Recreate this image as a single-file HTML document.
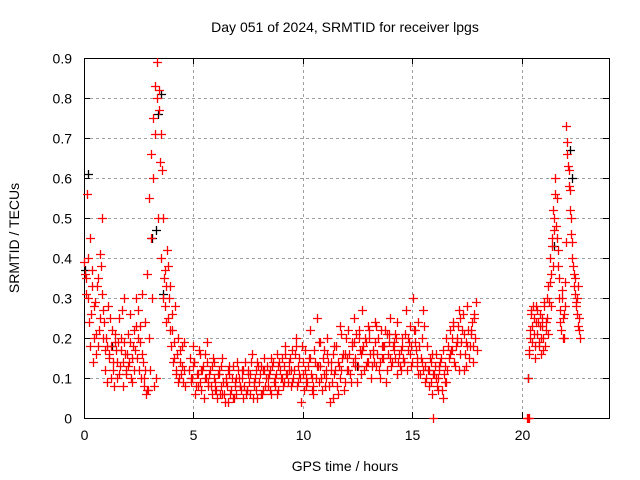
<!DOCTYPE html>
<html><head><meta charset="utf-8"><style>
html,body{margin:0;padding:0;background:#fff;}
svg{display:block;font-family:"Liberation Sans",sans-serif;}
</style></head><body>
<svg id="chart" width="640" height="480" viewBox="0 0 640 480" xmlns="http://www.w3.org/2000/svg">
<text x="345" y="32" font-size="14" text-anchor="middle">Day 051 of 2024, SRMTID for receiver lpgs</text>
<text x="345" y="471" font-size="14" text-anchor="middle">GPS time / hours</text>
<text transform="translate(19,238) rotate(-90)" font-size="14" text-anchor="middle">SRMTID / TECUs</text>
<g id="grid"></g><g id="axes"></g><g id="marks"></g>
</svg>
<script>
const xTicks=[0,5,10,15,20];
const yTicks=[0,0.1,0.2,0.3,0.4,0.5,0.6,0.7,0.8,0.9];
const yTickLabels=["0","0.1","0.2","0.3","0.4","0.5","0.6","0.7","0.8","0.9"];
const segStarts=[0.02,0.05,4.8,4.84,20.3,20.33,4.88];
const segSteps=[0.06,0.06,0.08,0.08,0.05,0.05,0.16];
const seg0=[0.39,0.35,0.56,0.30,0.45,0.26,0.33,0.20,0.29,0.16,0.35,0.22,0.41,0.50,0.27,0.24,0.12,0.18,0.28,0.15,0.10,0.22,0.14,0.19,0.17,0.10,0.25,0.13,0.20,0.08,0.30,0.16,0.11,0.21,0.14,0.26,0.09,0.18,0.12,0.23,0.15,0.27,0.19,0.10,0.31,0.08,0.24,0.06,0.36,0.55,0.12,0.66,0.75,0.08,0.83,0.89,0.50,0.77,0.40,0.62,0.30,0.37,0.24,0.42,0.25,0.33,0.18,0.22,0.15,0.28,0.12,0.20,0.10,0.17,0.13,0.09,0.19];
const seg1=[0.36,0.31,0.40,0.24,0.18,0.37,0.14,0.28,0.21,0.33,0.18,0.25,0.38,0.31,0.20,0.17,0.20,0.09,0.16,0.25,0.18,0.12,0.08,0.21,0.14,0.19,0.11,0.17,0.27,0.14,0.19,0.12,0.16,0.13,0.19,0.10,0.15,0.22,0.17,0.30,0.20,0.12,0.23,0.16,0.14,0.10,0.12,0.07,0.07,0.20,0.45,0.30,0.60,0.71,0.10,0.80,0.82,0.64,0.71,0.50,0.35,0.28,0.33,0.38,0.30,0.22,0.26,0.14,0.19,0.11,0.16,0.09,0.14,0.11,0.18,0.12,0.08];
const seg2=[0.12,0.09,0.18,0.14,0.08,0.11,0.16,0.07,0.13,0.10,0.19,0.08,0.12,0.06,0.14,0.09,0.05,0.12,0.08,0.15,0.06,0.10,0.04,0.11,0.07,0.13,0.09,0.06,0.12,0.08,0.10,0.05,0.14,0.07,0.11,0.06,0.16,0.08,0.12,0.05,0.09,0.13,0.07,0.15,0.10,0.08,0.12,0.06,0.14,0.10,0.16,0.07,0.12,0.15,0.09,0.18,0.11,0.14,0.08,0.17,0.12,0.20,0.09,0.15,0.04,0.11,0.17,0.08,0.13,0.22,0.10,0.06,0.14,0.25,0.09,0.13,0.07,0.17,0.10,0.20,0.08,0.14,0.05,0.11,0.18,0.06,0.23,0.12,0.16,0.09,0.15,0.22,0.11,0.18,0.25,0.13,0.09,0.20,0.16,0.27,0.12,0.19,0.14,0.22,0.10,0.17,0.24,0.13,0.20,0.10,0.18,0.15,0.22,0.12,0.19,0.25,0.14,0.17,0.21,0.11,0.16,0.12,0.20,0.14,0.27,0.17,0.23,0.13,0.30,0.19,0.15,0.24,0.11,0.20,0.27,0.13,0.18,0.08,0.14,0.06,0.11,0.16,0.07,0.12,0.15,0.05,0.13,0.09,0.18,0.22,0.17,0.24,0.13,0.20,0.27,0.16,0.22,0.12,0.19,0.28,0.15,0.21,0.18,0.25,0.29];
const seg3=[0.15,0.10,0.13,0.06,0.11,0.17,0.09,0.12,0.05,0.10,0.14,0.11,0.08,0.15,0.10,0.07,0.11,0.06,0.13,0.09,0.04,0.08,0.12,0.06,0.10,0.05,0.08,0.14,0.10,0.07,0.12,0.08,0.06,0.12,0.09,0.14,0.05,0.10,0.07,0.13,0.11,0.06,0.12,0.08,0.13,0.11,0.07,0.13,0.09,0.11,0.06,0.14,0.10,0.08,0.13,0.11,0.09,0.15,0.12,0.10,0.16,0.08,0.13,0.10,0.18,0.07,0.12,0.09,0.15,0.11,0.07,0.17,0.10,0.13,0.19,0.10,0.15,0.08,0.12,0.14,0.04,0.09,0.16,0.12,0.08,0.13,0.10,0.15,0.07,0.20,0.12,0.16,0.09,0.14,0.19,0.21,0.13,0.17,0.11,0.18,0.20,0.14,0.23,0.16,0.13,0.14,0.19,0.16,0.12,0.22,0.15,0.18,0.09,0.16,0.21,0.13,0.18,0.15,0.20,0.14,0.13,0.18,0.15,0.21,0.12,0.19,0.16,0.14,0.22,0.17,0.13,0.18,0.15,0.12,0.23,0.10,0.12,0.15,0.09,0.11,0.13,0.08,0.10,0.14,0.07,0.11,0.09,0.12,0.15,0.17,0.20,0.14,0.18,0.23,0.12,0.19,0.26,0.16,0.13,0.22,0.18,0.24,0.14,0.20,0.17];
const seg4=[0.10,0.17,0.22,0.27,0.19,0.25,0.15,0.28,0.21,0.24,0.18,0.26,0.20,0.23,0.17,0.28,0.22,0.25,0.33,0.29,0.40,0.36,0.45,0.52,0.47,0.60,0.55,0.42,0.35,0.27,0.22,0.30,0.25,0.20,0.28,0.73,0.66,0.62,0.57,0.50,0.44,0.38,0.33,0.35,0.28,0.30,0.23,0.25];
const seg5=[0.16,0.20,0.26,0.23,0.28,0.21,0.18,0.24,0.27,0.19,0.23,0.16,0.25,0.20,0.29,0.18,0.24,0.30,0.21,0.34,0.28,0.43,0.38,0.50,0.56,0.48,0.45,0.38,0.30,0.24,0.32,0.20,0.26,0.34,0.44,0.69,0.63,0.58,0.52,0.46,0.40,0.36,0.31,0.29,0.26,0.33,0.22,0.20];
const seg6=[0.10,0.14,0.08,0.12,0.16,0.09,0.13,0.07,0.11,0.06,0.09,0.13,0.05,0.10,0.08,0.12,0.07,0.11,0.09,0.14,0.06,0.12,0.10,0.15,0.08,0.13,0.10,0.16,0.12,0.09,0.18,0.11,0.14,0.10,0.15,0.08,0.13,0.19,0.11,0.16,0.12,0.18,0.14,0.21,0.16,0.12,0.19,0.15,0.22,0.17,0.13,0.20,0.16,0.23,0.14,0.18,0.21,0.15,0.19,0.24,0.17,0.14,0.20,0.18,0.22,0.11,0.14,0.09,0.12,0.16,0.10,0.13,0.17,0.20,0.16,0.23,0.19,0.25,0.21,0.18,0.22,0.26];
const redSegs=[seg0,seg1,seg2,seg3,seg4,seg5,seg6];
const extraRedT=[15.95,20.25,20.3,20.35];
const extraRedV=[0,0,0,0];
const blackT=[0.2,0.05,3.1,3.3,3.4,3.5,3.6,21.5,22.2,22.3,20.3,1.3,12.5];
const blackV=[0.61,0.37,0.45,0.47,0.76,0.81,0.31,0.43,0.67,0.60,0.10,0.18,0.13];

const L=84,R=609,T=58,B=418,XMAX=24,YMAX=0.9;
const xs=t=>L+t/XMAX*(R-L);
const ys=v=>B-v/YMAX*(B-T);
const NS="http://www.w3.org/2000/svg";
function mk(tag,attrs,parent){const e=document.createElementNS(NS,tag);for(const k in attrs)e.setAttribute(k,attrs[k]);parent.appendChild(e);return e;}
const grid=document.getElementById('grid'),axes=document.getElementById('axes'),marks=document.getElementById('marks');
yTicks.forEach((v,i)=>{
  const y=Math.round(ys(v))+0.5;
  if(i>0&&i<yTicks.length-1){const g=mk('line',{x1:L,x2:R,y1:y,y2:y,stroke:'#a0a0a0','stroke-dasharray':'3,3'},grid);
  
  }
  const tk=mk('path',{d:`M${L} ${y}h6M${R} ${y}h-6`,stroke:'#000'},axes);
  
  
  const tx=mk('text',{x:L-12,y:y+5,'font-size':14,'text-anchor':'end'},axes);tx.textContent=yTickLabels[i];
  
  
});
xTicks.forEach((t,i)=>{
  const x=Math.round(xs(t))+0.5;
  if(t>0){const g=mk('line',{x1:x,x2:x,y1:T,y2:B,stroke:'#a0a0a0','stroke-dasharray':'3,3'},grid);
  
  }
  const tk=mk('path',{d:`M${x} ${B}v-6M${x} ${T}v6`,stroke:'#000'},axes);
  
  
  const tx=mk('text',{x:x,y:B+22,'font-size':14,'text-anchor':'middle'},axes);tx.textContent=String(t);
  
  
});
const frame=mk('rect',{x:L+0.5,y:T+0.5,width:R-L,height:B-T,fill:'none',stroke:'#000'},axes);


function plus(t,v,col,name){
  const x=Math.round(xs(t))+0.5,y=Math.round(ys(v))+0.5;
  const p=mk('path',{d:`M${x-4.5} ${y}h9M${x} ${y-4.5}v9`,stroke:col,'stroke-width':1.3},marks);
  
  
}
blackT.forEach((t,i)=>plus(t,blackV[i],'#000','black-point'));
redSegs.forEach((s,k)=>s.forEach((v,i)=>plus(segStarts[k]+i*segSteps[k],v,'#ff0000','red-point')));
extraRedT.forEach((t,i)=>plus(t,extraRedV[i],'#ff0000','red-point'));
</script>
</body></html>
